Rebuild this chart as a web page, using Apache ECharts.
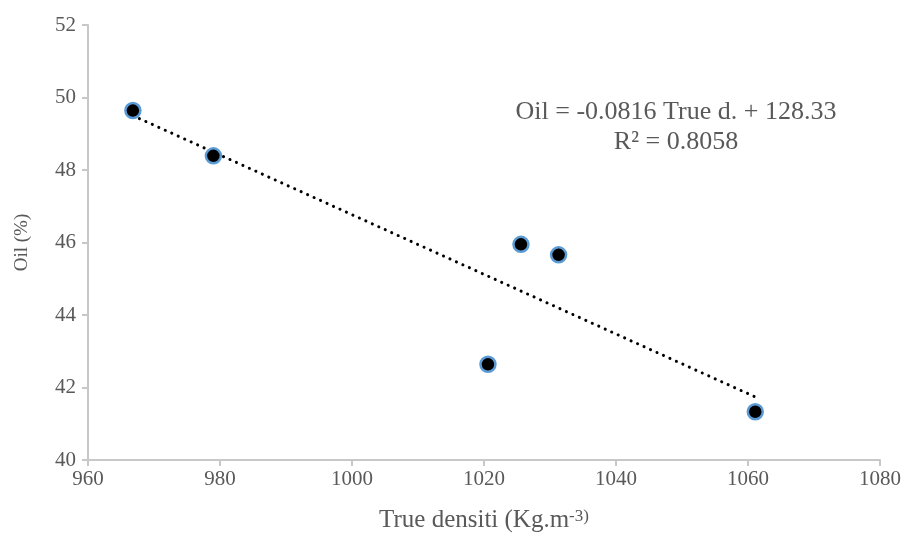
<!DOCTYPE html>
<html>
<head>
<meta charset="utf-8">
<script src="https://cdn.jsdelivr.net/npm/echarts@6/dist/echarts.min.js"></script>
<style>html,body{margin:0;padding:0;background:#fff}#c{width:904px;height:537px}</style>
</head>
<body>
<div id="c"></div>
<script>
const trueDensity = [966.8, 979.0, 1020.6, 1025.6, 1031.3, 1061.1];
const oilPercent = [49.64, 48.39, 42.64, 45.95, 45.66, 41.33];
const trendX = [966.8, 1061.1];
const trendY = [49.50, 41.74];
const xTicks = [960, 980, 1000, 1020, 1040, 1060, 1080];
const yTicks = [40, 42, 44, 46, 48, 50, 52];
const equationLines = ['Oil = -0.0816 True d. + 128.33', 'R² = 0.8058'];

const font = 'Liberation Serif';
const chart = echarts.init(document.getElementById('c'));
chart.setOption({
  animation: false,
  backgroundColor: '#fff',
  grid: { left: 88, right: 24, top: 25, bottom: 77, outerBoundsMode: 'none', containLabel: false },
  xAxis: {
    type: 'value', min: xTicks[0], max: xTicks[xTicks.length-1], interval: 20,
    axisLine: { lineStyle: { color: '#c8c8c8', width: 2 } },
    axisTick: { show: true, length: 6, lineStyle: { color: '#c8c8c8', width: 2 } },
    splitLine: { show: false },
    axisLabel: { color: '#595959', fontFamily: font, fontSize: 21, margin: 9, formatter: v => String(v) },
    name: '{a|True densiti (Kg.m}{s|-3)}',
    nameLocation: 'middle', nameGap: 48,
    nameTextStyle: { rich: {
      a: { fontFamily: font, fontSize: 25, color: '#595959', verticalAlign: 'bottom' },
      s: { fontFamily: font, fontSize: 17, color: '#595959', verticalAlign: 'bottom', padding: [0,0,8,0] }
    } }
  },
  yAxis: {
    type: 'value', min: yTicks[0], max: yTicks[yTicks.length-1], interval: 2,
    axisLine: { show: true, lineStyle: { color: '#c8c8c8', width: 2 } },
    axisTick: { show: true, length: 6, lineStyle: { color: '#c8c8c8', width: 2 } },
    splitLine: { show: false },
    axisLabel: { color: '#595959', fontFamily: font, fontSize: 21, margin: 12, formatter: v => String(v) },
    name: 'Oil (%)', nameLocation: 'middle', nameGap: 56,
    nameTextStyle: { fontFamily: font, fontSize: 19, color: '#595959' }
  },
  series: [
    {
      type: 'line',
      data: trendX.map((x, i) => [x, trendY[i]]),
      symbol: 'none',
      lineStyle: { color: '#000', width: 3, type: [0.1, 7], cap: 'round' },
      z: 1
    },
    {
      type: 'scatter',
      data: trueDensity.map((x, i) => [x, oilPercent[i]]),
      symbol: 'circle', symbolSize: 15,
      itemStyle: { color: '#000', borderColor: '#5b9bd5', borderWidth: 2.5, opacity: 1 },
      z: 3
    }
  ],
  graphic: [
    { type: 'text', x: 676, y: 112, style: { text: equationLines[0], fontFamily: font, fontSize: 26, fill: '#595959', align: 'center', verticalAlign: 'middle' } },
    { type: 'text', x: 676, y: 142, style: { text: equationLines[1], fontFamily: font, fontSize: 26, fill: '#595959', align: 'center', verticalAlign: 'middle' } }
  ]
});
</script>
</body>
</html>
